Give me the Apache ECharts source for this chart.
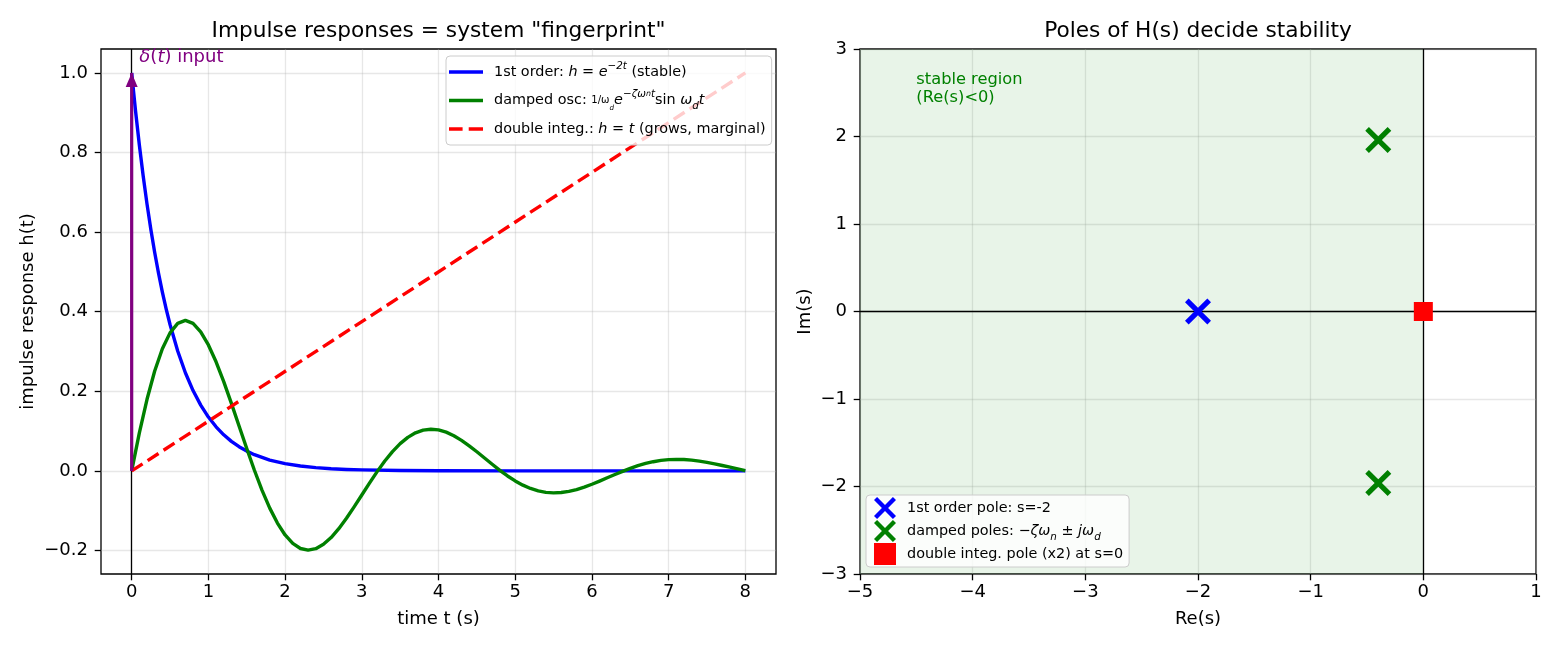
<!DOCTYPE html>
<html><head><meta charset="utf-8">
<script src="https://cdn.jsdelivr.net/npm/echarts@6/dist/echarts.min.js"></script>
<style>html,body{margin:0;padding:0;background:#fff}#c{width:1560px;height:650px}</style>
</head><body><div id="c"></div>
<script>
// ---- data ----
const tFirst = [0,0.05,0.1,0.15,0.2,0.25,0.3,0.35,0.4,0.45,0.5,0.6,0.7,0.8,0.9,1.0,1.1,1.2,1.3,1.4,1.5,1.6,1.8,2.0,2.2,2.4,2.6,2.8,3.0,3.5,4,5,6,7,8];
const hFirst = [1,0.9048,0.8187,0.7408,0.6703,0.6065,0.5488,0.4966,0.4493,0.4066,0.3679,0.3012,0.2466,0.2019,0.1653,0.1353,0.1108,0.0907,0.0743,0.0608,0.0498,0.0408,0.0273,0.0183,0.0123,0.0082,0.0055,0.0037,0.0025,0.0009,0.0003,0,0,0,0];
const tDamped = [0,0.1,0.2,0.3,0.4,0.5,0.6,0.7,0.8,0.9,1.0,1.1,1.2,1.3,1.4,1.5,1.6,1.7,1.8,1.9,2.0,2.1,2.2,2.3,2.4,2.5,2.6,2.7,2.8,2.9,3.0,3.1,3.2,3.3,3.4,3.5,3.6,3.7,3.8,3.9,4.0,4.1,4.2,4.3,4.4,4.5,4.6,4.7,4.8,4.9,5.0,5.1,5.2,5.3,5.4,5.5,5.6,5.7,5.8,5.9,6.0,6.1,6.2,6.3,6.4,6.5,6.6,6.7,6.8,6.9,7.0,7.1,7.2,7.3,7.4,7.5,7.6,7.7,7.8,7.9,8.0];
const hDamped = [0,0.0955,0.1799,0.2510,0.3069,0.3468,0.3705,0.3781,0.3705,0.3494,0.3165,0.2741,0.2243,0.1698,0.1130,0.0562,0.0017,-0.0488,-0.0935,-0.1311,-0.1609,-0.1822,-0.1949,-0.1991,-0.1954,-0.1845,-0.1674,-0.1451,-0.1190,-0.0904,-0.0605,-0.0306,-0.0018,0.0249,0.0485,0.0685,0.0843,0.0957,0.1025,0.1048,0.1030,0.0974,0.0885,0.0768,0.0631,0.0481,0.0324,0.0166,0.0014,-0.0127,-0.0252,-0.0358,-0.0441,-0.0502,-0.0539,-0.0552,-0.0543,-0.0514,-0.0468,-0.0407,-0.0335,-0.0256,-0.0173,-0.0090,-0.0010,0.0065,0.0131,0.0187,0.0231,0.0264,0.0283,0.0291,0.0286,0.0271,0.0247,0.0215,0.0178,0.0136,0.0093,0.0049,0.0006];
const tDouble = [0, 8];
const hDouble = [0, 1];
const tImpulse = [0, 0];
const hImpulse = [0, 1];
const leftXTicks = [0,1,2,3,4,5,6,7,8];
const leftYTicks = [-0.2,0,0.2,0.4,0.6,0.8,1.0];
const rightXTicks = [-5,-4,-3,-2,-1,0,1];
const rightYTicks = [-3,-2,-1,0,1,2,3];
const poleFirst = [[-2,0]];
const poleDamped = [[-0.4,1.96],[-0.4,-1.96]];
const poleDouble = [[0,0]];
const stableSpan = [-5, 0];
const deltaLabelPos = [[0.1, 1.04]];
const stableLabelPos = [[-4.5, 2.55]];

const zip = (xs, ys) => xs.map((x, i) => [x, ys[i]]);
const minus = s => s.replace('-', '\u2212');
const fmt1 = v => minus((Math.round(v * 10) / 10).toFixed(1));
const fmt0 = v => minus(String(Math.round(v)));

const FF = 'DejaVu Sans';
const TICK = 18;
const LEG = 14.4;
const gridLine = {show: true, lineStyle: {color: 'rgba(176,176,176,0.3)', width: 1.3}};
const xMarkPath = 'path://M0,14L14,0L50,36L86,0L100,14L64,50L100,86L86,100L50,64L14,100L0,86L36,50Z';
const squarePath = 'path://M0,0L100,0L100,100L0,100Z';
const solidIcon = 'path://M0,0L100,0L100,10L0,10Z';
const dashIcon = 'path://M0,0L40,0L40,10L0,10Z M58,0L100,0L100,10L58,10Z';

function richSet(fs, lh) {
  return {
    i: {fontStyle: 'italic', fontSize: fs, fontFamily: FF, lineHeight: lh},
    sup: {fontStyle: 'italic', fontSize: fs * 0.72, fontFamily: FF, verticalAlign: 'top', lineHeight: 9},
    sups: {fontStyle: 'italic', fontSize: fs * 0.55, fontFamily: FF, verticalAlign: 'top', lineHeight: 14},
    sub: {fontStyle: 'italic', fontSize: fs * 0.72, fontFamily: FF, verticalAlign: 'bottom', lineHeight: lh - 6},
    fr: {fontSize: fs * 0.7, fontFamily: FF, lineHeight: lh},
    frs: {fontStyle: 'italic', fontSize: fs * 0.5, fontFamily: FF, verticalAlign: 'bottom', lineHeight: lh - 6}
  };
}

const leftLegendText = {
  'first': '1st order: {i|h} = {i|e}{sup|\u22122t} (stable)',
  'damped': 'damped osc: {fr|1/\u03c9}{frs|d}{i|e}{sup|\u2212\u03b6\u03c9}{sups|n}{sup|t}sin {i|\u03c9}{sub|d}{i|t}',
  'double': 'double integ.: {i|h} = {i|t} (grows, marginal)'
};
const rightLegendText = {
  'p1': '1st order pole: s=-2',
  'p2': 'damped poles: \u2212{i|\u03b6\u03c9}{sub|n} \u00b1 {i|j\u03c9}{sub|d}',
  'p3': 'double integ. pole (x2) at s=0'
};

function axisCommon(ticks, formatter, name, gap) {
  return {
    type: 'value',
    axisLine: {show: false, onZero: false},
    axisTick: {show: true, length: 6.3, inside: false, lineStyle: {color: '#000', width: 1.3}, customValues: ticks},
    axisLabel: {customValues: ticks, color: '#000', fontSize: TICK, fontFamily: FF, formatter: formatter},
    splitLine: gridLine,
    name: name, nameLocation: 'middle', nameGap: gap,
    nameTextStyle: {color: '#000', fontSize: TICK, fontFamily: FF}
  };
}

const chart = echarts.init(document.getElementById('c'), null, {renderer: 'canvas'});
const lx = axisCommon(leftXTicks, fmt0, 'time t (s)', 36); lx.gridIndex = 0; lx.min = -0.4; lx.max = 8.4; lx.axisLabel.margin = 9;
const ly = axisCommon(leftYTicks, fmt1, 'impulse response h(t)', 64); ly.gridIndex = 0; ly.min = -0.259; ly.max = 1.06; ly.axisLabel.margin = 13;
const rx = axisCommon(rightXTicks, fmt0, 'Re(s)', 36); rx.gridIndex = 1; rx.min = -5; rx.max = 1; rx.interval = 1; rx.axisLabel.margin = 9;
const ry = axisCommon(rightYTicks, fmt0, 'Im(s)', 46); ry.gridIndex = 1; ry.min = -3; ry.max = 3; ry.interval = 1; ry.axisLabel.margin = 13;

const option = {
  animation: false,
  backgroundColor: '#fff',
  textStyle: {fontFamily: FF},
  graphic: [
    {type: 'text', x: 438.5, y: 31, z: 100, style: {text: 'Impulse responses = system "fingerprint"', fontSize: 21.7, fontFamily: FF, fill: '#000', align: 'center', verticalAlign: 'middle', textAlign: 'center', textVerticalAlign: 'middle'}},
    {type: 'text', x: 1198, y: 31, z: 100, style: {text: 'Poles of H(s) decide stability', fontSize: 21.7, fontFamily: FF, fill: '#000', align: 'center', verticalAlign: 'middle', textAlign: 'center', textVerticalAlign: 'middle'}}
  ],
  grid: [
    {left: 101, top: 49, width: 675, height: 525, show: true, borderColor: '#000', borderWidth: 1.3, backgroundColor: 'transparent', containLabel: false},
    {left: 860, top: 49, width: 676, height: 525, show: true, borderColor: '#000', borderWidth: 1.3, backgroundColor: 'transparent', containLabel: false}
  ],
  xAxis: [lx, rx],
  yAxis: [ly, ry],
  legend: [
    {
      data: [{name: 'first', icon: solidIcon}, {name: 'damped', icon: solidIcon}, {name: 'double', icon: dashIcon}],
      orient: 'vertical', left: 446, top: 56,
      itemWidth: 34, itemHeight: 3.6, itemGap: 6.5,
      padding: [5, 6, 5, 3],
      backgroundColor: 'rgba(255,255,255,0.8)', borderColor: '#cccccc', borderWidth: 1, borderRadius: 4,
      textStyle: {fontSize: LEG, fontFamily: FF, color: '#000', lineHeight: 22, padding: [0, 0, 0, 6], rich: richSet(LEG, 22)},
      formatter: n => leftLegendText[n],
      selectedMode: false, z: 20
    },
    {
      data: ['p1', 'p2', 'p3'],
      orient: 'vertical', left: 866, top: 495,
      itemWidth: 34, itemHeight: 22, itemGap: 1,
      padding: [2, 6, 2, 8],
      backgroundColor: 'rgba(255,255,255,0.8)', borderColor: '#cccccc', borderWidth: 1, borderRadius: 4,
      textStyle: {fontSize: LEG, fontFamily: FF, color: '#000', lineHeight: 22, rich: richSet(LEG, 22)},
      formatter: n => rightLegendText[n],
      selectedMode: false, z: 20
    }
  ],
  series: [
    {
      name: 'first', type: 'line', xAxisIndex: 0, yAxisIndex: 0,
      data: zip(tFirst, hFirst), showSymbol: false, symbol: 'none', smooth: false,
      lineStyle: {color: '#0000ff', width: 3.4, join: 'round'}, itemStyle: {color: '#0000ff'}, z: 3,
      markLine: {silent: true, symbol: ['none', 'none'], label: {show: false}, lineStyle: {color: '#000', width: 1.3, type: 'solid'}, data: [{xAxis: 0}], z: 1}
    },
    {
      name: 'damped', type: 'line', xAxisIndex: 0, yAxisIndex: 0,
      data: zip(tDamped, hDamped), showSymbol: false, symbol: 'none', smooth: false,
      lineStyle: {color: '#008000', width: 3.4, join: 'round'}, itemStyle: {color: '#008000'}, z: 3
    },
    {
      name: 'double', type: 'line', xAxisIndex: 0, yAxisIndex: 0,
      data: zip(tDouble, hDouble), showSymbol: false, symbol: 'none',
      lineStyle: {color: '#ff0000', width: 3.4, type: [13, 6]}, itemStyle: {color: '#ff0000'}, z: 3
    },
    {
      name: 'impulse', type: 'line', xAxisIndex: 0, yAxisIndex: 0,
      data: zip(tImpulse, hImpulse), showSymbol: false, symbol: 'none',
      lineStyle: {color: '#800080', width: 3.2}, z: 4,
      markPoint: {silent: true, symbol: 'triangle', symbolSize: [12, 14], itemStyle: {color: '#800080'}, label: {show: false}, data: [{coord: [0, 0.982]}]}
    },
    {
      name: 'deltaLabel', type: 'scatter', xAxisIndex: 0, yAxisIndex: 0,
      data: deltaLabelPos, symbolSize: 0, silent: true, z: 6, itemStyle: {opacity: 1},
      label: {show: true, position: 'right', distance: 0, color: '#800080', opacity: 1, fontSize: 18, fontFamily: FF,
        formatter: '{m|\u03b4}({m|t}) input', rich: {m: {fontStyle: 'italic', fontSize: 18, fontFamily: FF, color: '#800080'}}}
    },
    {
      name: 'p1', type: 'scatter', xAxisIndex: 1, yAxisIndex: 1,
      data: poleFirst, symbol: xMarkPath, symbolSize: 26, symbolKeepAspect: true,
      itemStyle: {color: '#0000ff', opacity: 1}, z: 5,
      markArea: {silent: true, itemStyle: {color: 'rgba(0,128,0,0.09)'}, data: [[{xAxis: stableSpan[0]}, {xAxis: stableSpan[1]}]]},
      markLine: {silent: true, symbol: ['none', 'none'], label: {show: false}, lineStyle: {color: '#000', width: 1.3, type: 'solid'}, data: [{xAxis: 0}, {yAxis: 0}]}
    },
    {
      name: 'p2', type: 'scatter', xAxisIndex: 1, yAxisIndex: 1,
      data: poleDamped, symbol: xMarkPath, symbolSize: 26, symbolKeepAspect: true,
      itemStyle: {color: '#008000', opacity: 1}, z: 5
    },
    {
      name: 'p3', type: 'scatter', xAxisIndex: 1, yAxisIndex: 1,
      data: poleDouble, symbol: squarePath, symbolSize: 19, symbolKeepAspect: true,
      itemStyle: {color: '#ff0000', opacity: 1}, z: 6
    },
    {
      name: 'stableLabel', type: 'scatter', xAxisIndex: 1, yAxisIndex: 1,
      data: stableLabelPos, symbolSize: 0, silent: true, z: 6, itemStyle: {opacity: 1},
      label: {show: true, position: 'right', distance: 0, color: '#008000', opacity: 1, fontSize: 16.25, fontFamily: FF, lineHeight: 18, align: 'left',
        formatter: 'stable region\n(Re(s)<0)'}
    }
  ]
};
chart.setOption(option);
</script>
</body></html>
